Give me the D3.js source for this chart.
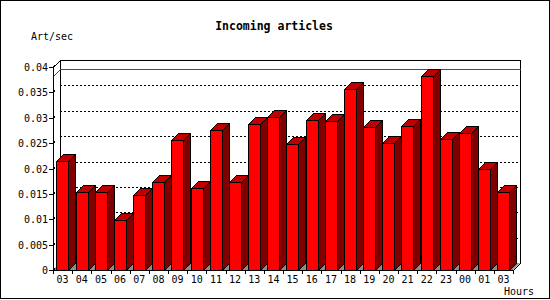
<!DOCTYPE html>
<html>
<head>
<meta charset="utf-8">
<script src="https://cdn.jsdelivr.net/npm/d3@7"></script>
<style>
  body { margin: 0; background: #fff; }
  svg { display: block; }
  text { font-family: "DejaVu Sans Mono", monospace; fill: #000; }
</style>
</head>
<body>
<svg></svg>
<script>
// data
var hours = ["03", "04", "05", "06", "07", "08", "09", "10", "11", "12", "13", "14",
             "15", "16", "17", "18", "19", "20", "21", "22", "23", "00", "01", "03"];
var artPerSec = [0.0215, 0.0153, 0.0153, 0.0098, 0.0147, 0.0173, 0.0256, 0.0161,
                 0.0276, 0.0173, 0.0287, 0.0301, 0.0248, 0.0295, 0.0293, 0.0356,
                 0.0281, 0.0250, 0.0283, 0.0382, 0.0259, 0.0269, 0.0200, 0.0153];
var yTicks = [0, 0.005, 0.01, 0.015, 0.02, 0.025, 0.03, 0.035, 0.04];
var yTickLabels = ["0", "0.005", "0.01", "0.015", "0.02", "0.025", "0.03", "0.035", "0.04"];

var width = 550, height = 300,
    depth = 7;

var svg = d3.select("svg")
    .attr("width", width)
    .attr("height", height)
    .attr("shape-rendering", "crispEdges");

var x = d3.scaleBand()
    .domain(d3.range(hours.length))
    .range([53, 513])
    .paddingInner(0)
    .paddingOuter(0);

var y = d3.scaleLinear()
    .domain([0, 0.04])
    .range([270, 67]);

var x0 = x.range()[0], x1 = x.range()[1],
    y0 = y(0), yTop = y(0.04);

// outer frame
svg.append("rect")
    .attr("x", 0.5).attr("y", 0.5)
    .attr("width", 549).attr("height", 298)
    .attr("fill", "#fff")
    .attr("stroke", "#000");

// floor
svg.append("path")
    .attr("d", "M" + x0 + "," + y0 + "L" + (x0 + depth) + "," + (y0 - depth) +
               "L" + (x1 + depth) + "," + (y0 - depth) + "L" + x1 + "," + y0 + "Z")
    .attr("shape-rendering", "auto")
    .attr("fill", "#8c8c8c");

// back wall grid
svg.append("g")
    .selectAll("line")
    .data(yTicks.slice(1, -1))
    .enter().append("line")
      .attr("x1", x0 + depth).attr("x2", x1 + depth)
      .attr("y1", function(d) { return Math.round(y(d) - depth) + 0.5; })
      .attr("y2", function(d) { return Math.round(y(d) - depth) + 0.5; })
      .attr("stroke", "#000")
      .attr("stroke-dasharray", "2,2");

// back wall edges
svg.append("path")
    .attr("d", "M" + x0 + "," + yTop + "L" + (x0 + depth) + "," + (yTop - depth) +
               "L" + (x1 + depth) + "," + (yTop - depth) + "L" + (x1 + depth) + "," + (y0 - depth) +
               "L" + x1 + "," + y0 +
               "M" + (x0 + depth) + "," + (yTop - depth) + "L" + (x0 + depth) + "," + (y0 - depth))
    .attr("fill", "none")
    .attr("stroke", "#000")
    .attr("transform", "translate(0.5,0.5)");

// max line
var maxV = d3.max(artPerSec);
svg.append("path")
    .attr("d", "M" + x0 + "," + Math.round(y(maxV)) + "L" + (x0 + depth) + "," + Math.round(y(maxV) - depth) +
               "L" + (x1 + depth) + "," + Math.round(y(maxV) - depth))
    .attr("fill", "none")
    .attr("stroke", "#ff0000")
    .attr("stroke-width", 1)
    .attr("transform", "translate(0.5,0.5)");

// bars
var off = 3.4, bw = 12;
var bars = svg.append("g")
    .attr("stroke", "#000")
    .selectAll("g")
    .data(artPerSec)
    .enter().append("g")
      .attr("transform", function(d, i) {
        return "translate(" + (Math.round(x(i) + off) + 0.5) + "," + (Math.round(y(d)) + 0.5) + ")";
      });

bars.append("path")   // top
    .attr("d", function(d) {
      return "M0,0L" + depth + "," + (-depth) + "L" + (bw + depth) + "," + (-depth) + "L" + bw + ",0Z";
    })
    .attr("fill", "#c00000");

bars.append("path")   // side
    .attr("d", function(d) {
      var h = Math.round(y0) - Math.round(y(d));
      return "M" + bw + ",0L" + (bw + depth) + "," + (-depth) + "L" + (bw + depth) + "," + (h - depth) + "L" + bw + "," + h + "Z";
    })
    .attr("fill", "#800000");

bars.append("rect")   // front
    .attr("x", 0).attr("y", 0)
    .attr("width", bw)
    .attr("height", function(d) { return Math.round(y0) - Math.round(y(d)); })
    .attr("fill", "#ff0000");

// y axis
svg.append("line")
    .attr("x1", x0).attr("x2", x0)
    .attr("y1", yTop).attr("y2", y0 + 3)
    .attr("stroke", "#000")
    .attr("transform", "translate(0.5,0)");

var yt = svg.append("g")
    .selectAll("g")
    .data(yTicks)
    .enter().append("g")
      .attr("transform", function(d) { return "translate(0," + (Math.round(y(d)) + 0.5) + ")"; });

yt.append("path")
    .attr("d", "M" + (x0 - 4) + ",0L" + x0 + ",0L" + (x0 + 2) + ",-2")
    .attr("fill", "none")
    .attr("stroke", "#000");

yt.append("text")
    .attr("x", 48)
    .attr("y", 0)
    .attr("dy", "0.33em")
    .attr("text-anchor", "end")
    .style("font-size", "10px")
    .text(function(d, i) { return yTickLabels[i]; });

// x axis
svg.append("line")
    .attr("x1", x0).attr("x2", x1)
    .attr("y1", Math.round(y0) + 0.5).attr("y2", Math.round(y0) + 0.5)
    .attr("stroke", "#000");

svg.append("g")
    .selectAll("line")
    .data(d3.range(hours.length + 1))
    .enter().append("line")
      .attr("x1", function(i) { return Math.round(x0 + i * x.bandwidth()) + 0.5; })
      .attr("x2", function(i) { return Math.round(x0 + i * x.bandwidth()) + 0.5; })
      .attr("y1", y0).attr("y2", y0 + 4)
      .attr("stroke", "#000");

svg.append("g")
    .selectAll("text")
    .data(hours)
    .enter().append("text")
      .attr("x", function(d, i) { return x(i) + x.bandwidth() / 2; })
      .attr("y", 283)
      .attr("text-anchor", "middle")
      .style("font-size", "10px")
      .text(function(d) { return d; });

// titles
svg.append("text")
    .attr("x", 274)
    .attr("y", 30)
    .attr("text-anchor", "middle")
    .style("font-size", "11.5px")
    .style("font-weight", "bold")
    .text("Incoming articles");

svg.append("text")
    .attr("x", 31)
    .attr("y", 40)
    .style("font-size", "10px")
    .text("Art/sec");

svg.append("text")
    .attr("x", 504)
    .attr("y", 295)
    .style("font-size", "10px")
    .text("Hours");
</script>
</body>
</html>
